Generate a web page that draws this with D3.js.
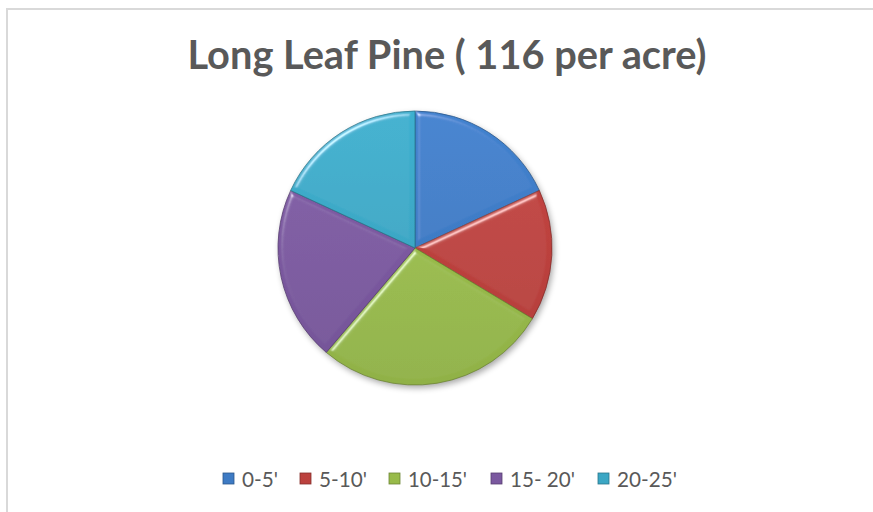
<!DOCTYPE html>
<html lang="en">
<head>
<meta charset="UTF-8"/>
<script src="https://d3js.org/d3.v7.min.js"></script>
<title>Long Leaf Pine</title>
<style>
  body { margin: 0; background: #fff; }
  svg { display: block; }
</style>
</head>
<body>
<script type="text/javascript">
  // tree counts per height class (total 116)
  var categories = ["0-5'", "5-10'", "10-15'", "15- 20'", "20-25'"];
  var counts     = [21, 18, 32, 24, 21];
  var colors     = ["#3F7DC8", "#BF433F", "#9BBE4B", "#7D5AA2", "#3CAAC8"];
  var title      = "Long Leaf Pine ( 116 per acre)";

  var w = 873, h = 512;
  var cx = 415, cy = 248, radius = 137;

  var svg = d3.select("body").append("svg")
              .attr("width", w)
              .attr("height", h);

  var defs = svg.append("defs");

  // soft bevel on each slice edge
  var bevel = defs.append("filter").attr("id", "bevel")
      .attr("x", "-10%").attr("y", "-10%").attr("width", "120%").attr("height", "120%");
  bevel.append("feGaussianBlur").attr("in", "SourceAlpha").attr("stdDeviation", 2.5).attr("result", "blur");
  var spec = bevel.append("feSpecularLighting").attr("in", "blur")
      .attr("surfaceScale", 4).attr("specularConstant", 0.9)
      .attr("specularExponent", 30).attr("lighting-color", "#ffffff").attr("result", "spec");
  spec.append("feDistantLight").attr("azimuth", 235).attr("elevation", 35);
  bevel.append("feComposite").attr("in", "spec").attr("in2", "SourceAlpha")
      .attr("operator", "in").attr("result", "specIn");
  bevel.append("feComposite").attr("in", "SourceGraphic").attr("in2", "specIn")
      .attr("operator", "arithmetic").attr("k1", 0).attr("k2", 1).attr("k3", 0.6).attr("k4", 0);

  // drop shadow under the whole pie
  var shadow = defs.append("filter").attr("id", "shadow")
      .attr("x", "-20%").attr("y", "-20%").attr("width", "140%").attr("height", "140%");
  shadow.append("feGaussianBlur").attr("in", "SourceAlpha").attr("stdDeviation", 3);
  shadow.append("feOffset").attr("dx", 2).attr("dy", 3).attr("result", "off");
  shadow.append("feComponentTransfer").append("feFuncA").attr("type", "linear").attr("slope", 0.35);

  // gradient per colour: lighter top, darker bottom
  colors.forEach(function(c, i) {
    var g = defs.append("linearGradient").attr("id", "grad" + i)
        .attr("gradientUnits", "userSpaceOnUse")
        .attr("x1", 0).attr("y1", -radius).attr("x2", 0).attr("y2", radius);
    g.append("stop").attr("offset", "0%").attr("stop-color", d3.color(c).brighter(0.1));
    g.append("stop").attr("offset", "100%").attr("stop-color", d3.color(c).darker(0.2));
  });

  // chart area border (left + top)
  svg.append("path")
     .attr("d", "M7," + h + " V9 H" + w)
     .attr("fill", "none")
     .attr("stroke", "#d9d9d9")
     .attr("stroke-width", 2);

  svg.append("text")
     .attr("x", 447)
     .attr("y", 69)
     .attr("text-anchor", "middle")
     .attr("textLength", 519)
     .attr("lengthAdjust", "spacingAndGlyphs")
     .style("font-family", "Lato, 'Open Sans', sans-serif")
     .style("font-weight", "bold")
     .style("font-size", "41px")
     .attr("fill", "#595959")
     .text(title);

  var pie = d3.pie().sort(null).value(function(d) { return d; });
  var arc = d3.arc().innerRadius(0).outerRadius(radius);

  var g = svg.append("g").attr("transform", "translate(" + cx + "," + cy + ")");

  g.append("circle").attr("r", radius)
   .attr("fill", "#888").attr("filter", "url(#shadow)");

  g.selectAll("path.slice")
   .data(pie(counts))
   .enter()
   .append("path")
   .attr("class", "slice")
   .attr("d", arc)
   .attr("fill", function(d, i) { return "url(#grad" + i + ")"; })
   .attr("stroke", function(d, i) { return d3.color(colors[i]).darker(1); })
   .attr("stroke-width", 0.8)
   .attr("filter", "url(#bevel)");

  // legend
  var legendX = [223, 300, 389, 491, 598];
  var legendW = [36, 48, 59, 65, 60];
  var legend = svg.append("g").selectAll("g")
     .data(categories)
     .enter()
     .append("g")
     .attr("transform", function(d, i) { return "translate(" + legendX[i] + ",473)"; });

  legend.append("rect")
     .attr("width", 11).attr("height", 11)
     .attr("fill", function(d, i) { return "url(#grad" + i + ")"; })
     .attr("stroke", function(d, i) { return d3.color(colors[i]).darker(1); })
     .attr("stroke-width", 0.8);

  legend.append("text")
     .attr("x", 19)
     .attr("y", 14)
     .attr("textLength", function(d, i) { return legendW[i]; })
     .attr("lengthAdjust", "spacingAndGlyphs")
     .style("font-family", "Lato, 'Open Sans', sans-serif")
     .style("font-size", "22px")
     .attr("fill", "#595959")
     .text(function(d) { return d; });
</script>
</body>
</html>
